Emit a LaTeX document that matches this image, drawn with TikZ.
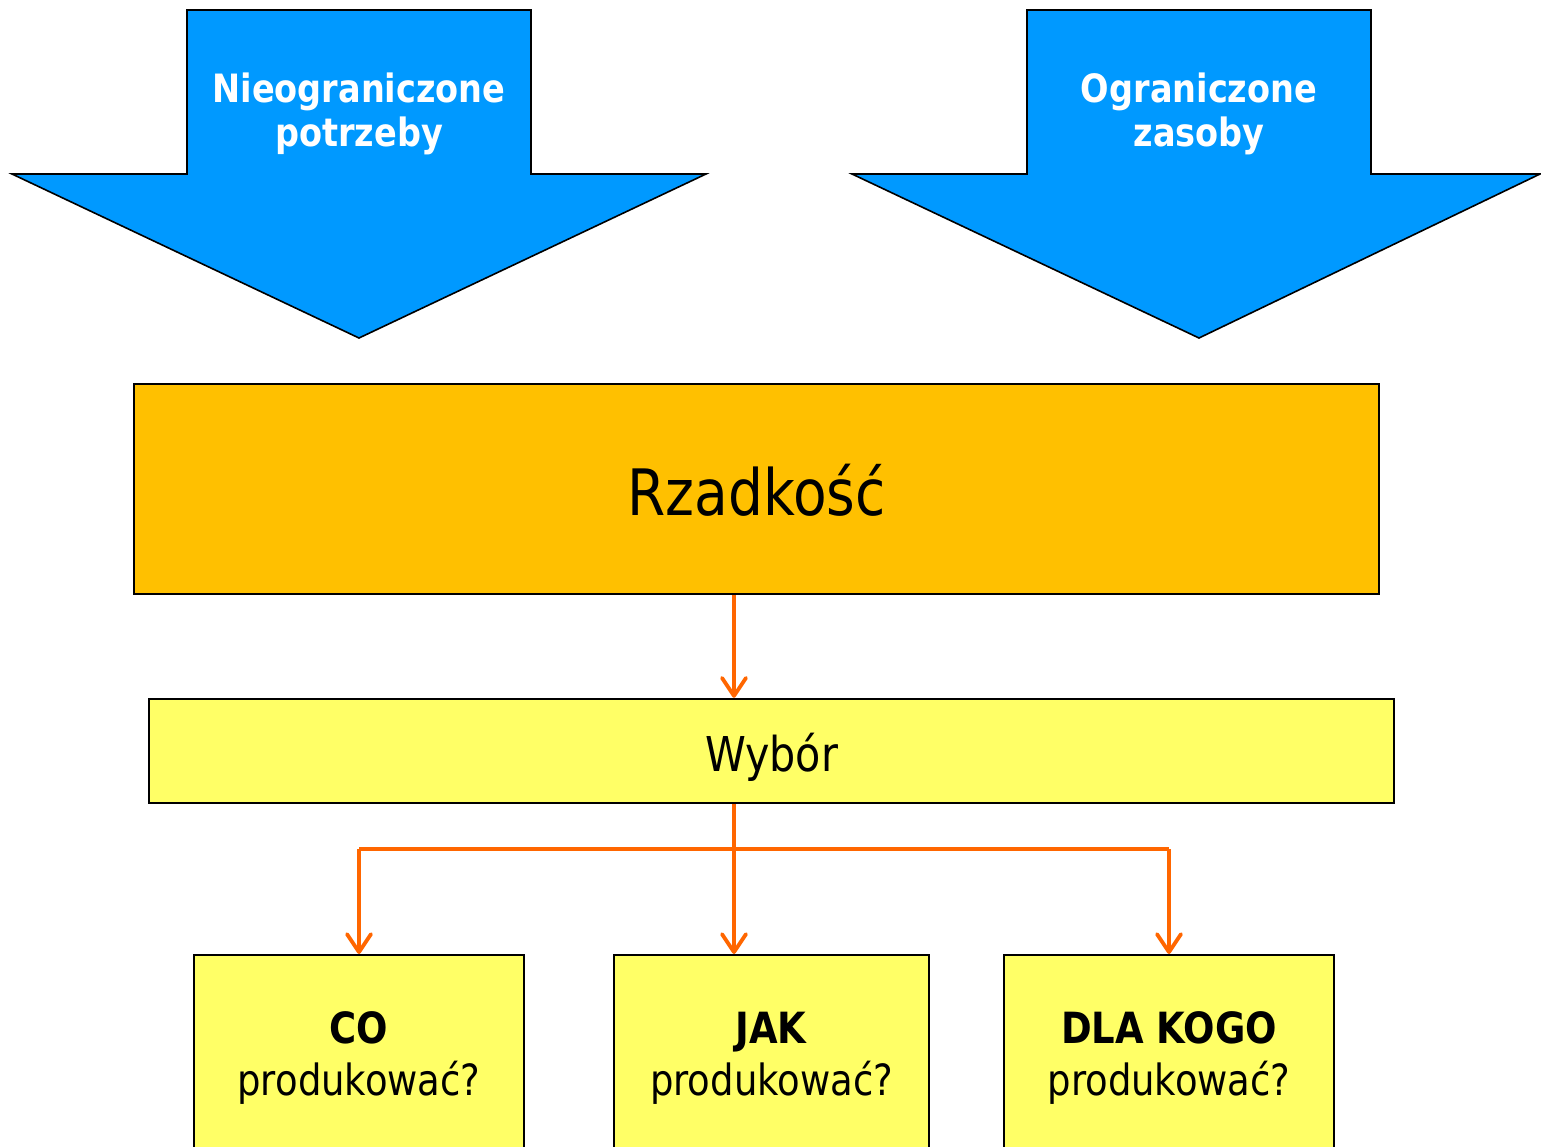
\documentclass[tikz,border=0pt]{standalone}
\usepackage{fontspec}
\setmainfont{DejaVu Sans}[FakeStretch=0.86]
\usetikzlibrary{arrows.meta}
\definecolor{blueA}{HTML}{0099FF}
\definecolor{orangeC}{HTML}{FF6600}
\definecolor{goldB}{HTML}{FFC000}
\definecolor{yellowB}{HTML}{FFFF66}
\tikzset{
  bigarrow/.style={fill=blueA, draw=black, line width=0.8pt, line join=miter},
  arrowtext/.style={text=white, font=\bfseries\fontsize{19.5}{22}\selectfont, align=center, inner sep=0pt},
  box/.style={draw=black, line width=1.2pt, inner sep=0pt},
  conn/.style={draw=orangeC, line width=1.9pt, -{Straight Barb[length=9pt,width=12pt,line cap=round,line join=round]}},
  connline/.style={draw=orangeC, line width=1.9pt},
  qtext/.style={font=\fontsize{21.5}{26}\selectfont, align=center, inner sep=0pt},
}
\begin{document}
\begin{tikzpicture}[x=0.5pt,y=-0.5pt]
\useasboundingbox (0,0) rectangle (1541,1146);
\clip (0,0) rectangle (1541,1146);
% big blue arrows
\draw[bigarrow] (187,10) -- (531,10) -- (531,174) -- (706,174) -- (359,338) -- (12,174) -- (187,174) -- cycle;
\draw[bigarrow] (1027,10) -- (1371,10) -- (1371,174) -- (1540,174) -- (1199,338) -- (852,174) -- (1027,174) -- cycle;
\node[arrowtext] (np) at (359,114) {Nieograniczone\\potrzeby};
\node[arrowtext] (oz) at (1199,114) {Ograniczone\\zasoby};
% scarcity
\node[box, fill=goldB, minimum width=622.5pt, minimum height=105pt,
      font=\fontsize{32}{38}\selectfont] (rz) at (756.5,489) {\raisebox{-13pt}[0pt][0pt]{Rzadkość}};
% choice
\node[box, fill=yellowB, minimum width=622.5pt, minimum height=52pt,
      font=\fontsize{24}{28}\selectfont] (wy) at (771.5,751) {\raisebox{-10pt}[0pt][0pt]{Wybór}};
% bottom boxes
\node[box, fill=yellowB, minimum width=165pt, minimum height=150pt, anchor=north] (co) at (359,954) {};
\node[box, fill=yellowB, minimum width=157.5pt, minimum height=150pt, anchor=north] (jak) at (771.5,954) {};
\node[box, fill=yellowB, minimum width=165pt, minimum height=150pt, anchor=north] (dk) at (1169,954) {};
\node[qtext] (coT) at (359,1058) {\textbf{CO}\\produkować?};
\node[qtext] (jakT) at (771.5,1058) {\textbf{JAK}\\produkować?};
\node[qtext] (dkT) at (1169,1058) {\textbf{DLA KOGO}\\produkować?};
% connectors
\coordinate (x1) at (734,0);
\coordinate (j) at (734,849);
\draw[conn] (rz.south -| x1) -- (wy.north -| x1);
\draw[connline] (co.north |- j) -- (dk.north |- j);
\draw[conn] (wy.south -| x1) -- (jak.north -| x1);
\draw[conn] (co.north |- j) -- (co.north);
\draw[conn] (dk.north |- j) -- (dk.north);
\end{tikzpicture}
\end{document}
